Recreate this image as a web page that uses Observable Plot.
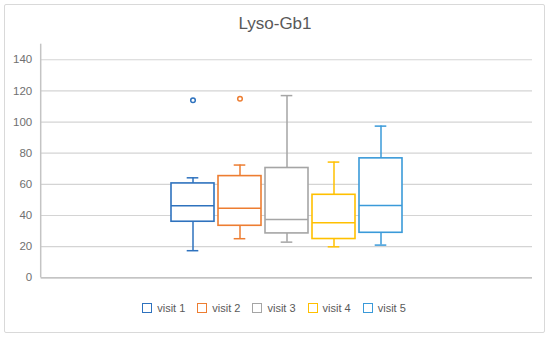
<!DOCTYPE html>
<html>
<head>
<meta charset="utf-8">
<script src="https://cdn.jsdelivr.net/npm/d3@7"></script>
<script src="https://cdn.jsdelivr.net/npm/@observablehq/plot@0.6"></script>
<style>
  html, body { margin: 0; padding: 0; background: #fff; }
  #wrap { position: relative; width: 550px; height: 339px; font-family: "Liberation Sans", Arial, sans-serif; overflow: hidden; }
  #frame { position: absolute; left: 4px; top: 4px; width: 541px; height: 329px; border: 1px solid #d9d9d9; border-radius: 2px; box-sizing: border-box; }
  #title { position: absolute; left: 0; top: 14px; width: 550px; text-align: center; font-size: 17px; line-height: 20px; color: #595959; }
  #chart { position: absolute; left: 0; top: 40px; }
  #legend { position: absolute; left: 0; top: 301px; width: 550px; display: flex; justify-content: center; font-size: 11px; color: #595959; line-height: 14px; }
  .item { display: flex; align-items: center; margin: 0 7px 0 5px; }
  .sw { width: 8px; height: 8px; border: 1.5px solid; margin-right: 5px; }
</style>
</head>
<body>
<div id="wrap">
  <div id="frame"></div>
  <div id="title"></div>
  <div id="chart"></div>
  <div id="legend"></div>
</div>
<script>
const title = "Lyso-Gb1";
const visits = ["visit 1", "visit 2", "visit 3", "visit 4", "visit 5"];
const colors = ["#2E72BE", "#ED7D31", "#A5A5A5", "#FFC000", "#3A9AD9"];
const mins = [17.4, 25.1, 22.9, 19.9, 21.0];
const q1s = [36.0, 33.4, 28.5, 24.9, 28.9];
const medians = [46.2, 44.6, 37.5, 35.3, 46.5];
const q3s = [60.6, 65.3, 70.5, 53.3, 76.7];
const maxs = [64.2, 72.4, 117.0, 74.3, 97.4];
const outlierVisits = ["visit 1", "visit 2"];
const outlierValues = [114, 115];
const yTicks = [0, 20, 40, 60, 80, 100, 120, 140];

const rows = visits.map((v, i) => ({visit: v, min: mins[i], q1: q1s[i], median: medians[i], q3: q3s[i], max: maxs[i]}));
const outliers = outlierVisits.map((v, i) => ({visit: v, value: outlierValues[i]}));

document.getElementById("title").textContent = title;

const W = 550, H = 250;
const chart = Plot.plot({
  width: W,
  height: H,
  marginLeft: 40.7,
  marginRight: 18,
  marginTop: 3.7,
  marginBottom: 12.7,
  style: {fontFamily: "Liberation Sans, Arial, sans-serif", fontSize: "11px", color: "#595959", background: "transparent"},
  x: {domain: visits, paddingInner: 0.09, paddingOuter: 2.7, align: 0.5, axis: null},
  y: {domain: [0, 150], axis: null},
  color: {domain: visits, range: colors},
  marks: [
    Plot.gridY(yTicks, {stroke: "#d4d4d4", strokeOpacity: 1, strokeWidth: 1.2}),
    Plot.axisY(yTicks, {tickSize: 0, tickPadding: 9, fontSize: 11.5, fill: "#707070"}),
    Plot.ruleY([0], {stroke: "#c4c4c4", strokeWidth: 1.5}),
    Plot.ruleX(rows, {x: "visit", y1: "min", y2: "max", stroke: "visit", strokeWidth: 1.5}),
    Plot.tickY(rows, {x: "visit", y: "min", stroke: "visit", strokeWidth: 1.5, insetLeft: 15.7, insetRight: 15.7}),
    Plot.tickY(rows, {x: "visit", y: "max", stroke: "visit", strokeWidth: 1.5, insetLeft: 15.7, insetRight: 15.7}),
    Plot.barY(rows, {x: "visit", y1: "q1", y2: "q3", fill: "white", stroke: "visit", strokeWidth: 1.6}),
    Plot.tickY(rows, {x: "visit", y: "median", stroke: "visit", strokeWidth: 1.5}),
    Plot.dot(outliers, {x: "visit", y: "value", r: 2.3, stroke: "visit", strokeWidth: 1.5, fill: "white"})
  ]
});
document.getElementById("chart").appendChild(chart);

// left value-axis line, placed with the chart's own y scale
const ys = chart.scale("y");
d3.select(chart).append("line")
  .attr("x1", 40.7).attr("x2", 40.7)
  .attr("y1", ys.apply(150)).attr("y2", ys.apply(0))
  .attr("stroke", "#c4c4c4").attr("stroke-width", 1.5);

const legend = d3.select("#legend");
visits.forEach((v, i) => {
  const it = legend.append("div").attr("class", "item");
  it.append("div").attr("class", "sw").style("border-color", colors[i]);
  it.append("span").text(v);
});
</script>
</body>
</html>
